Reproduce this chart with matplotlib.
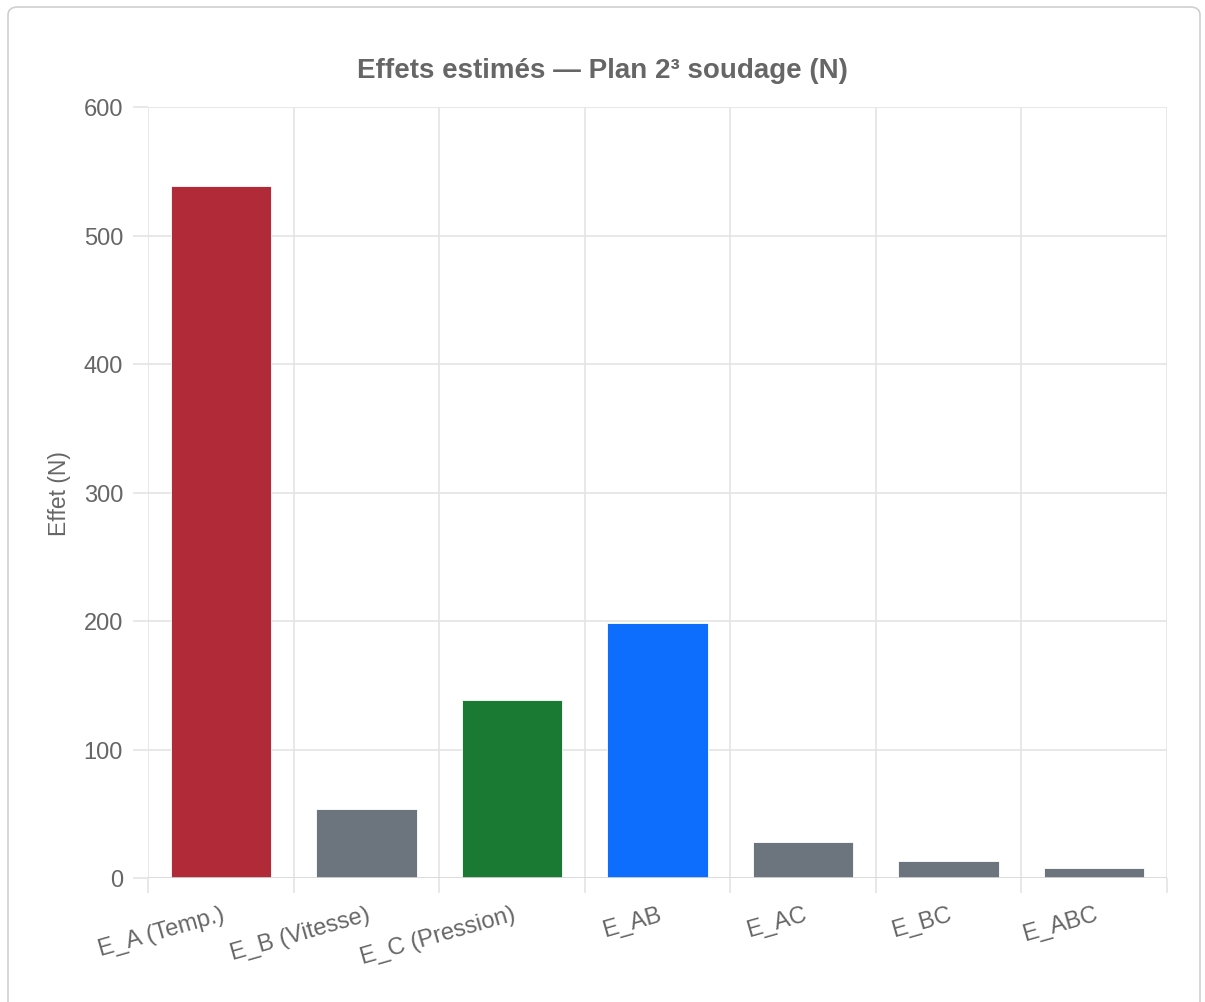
import numpy as np
import matplotlib.pyplot as plt
from matplotlib.patches import FancyBboxPatch

labels = ['E_A (Temp.)', 'E_B (Vitesse)', 'E_C (Pression)', 'E_AB', 'E_AC', 'E_BC', 'E_ABC']
effects = [538.5, 53.5, 138.5, 198.5, 28, 13, 8]
colors = ['#b02a37', '#6c757d', '#1a7a33', '#0d6efd', '#6c757d', '#6c757d', '#6c757d']

plt.rcParams['font.family'] = ['Liberation Sans', 'DejaVu Sans']

fig = plt.figure(figsize=(12.05, 10.03), dpi=100)

# card border (behind the axes)
card = FancyBboxPatch((8 / 1205, -0.02), 1192 / 1205, 1 - 8 / 1003 + 0.02,
                      boxstyle='round,pad=0,rounding_size=0.008',
                      transform=fig.transFigure, facecolor='none',
                      edgecolor='#cfcfcf', linewidth=1.2, zorder=-1)
fig.patches.append(card)

ax = fig.add_axes([148 / 1205, 1 - 879 / 1003, (1167 - 148) / 1205, (879 - 108) / 1003])
ax.set_facecolor('none')

x = np.arange(len(labels))
ax.bar(x, effects, width=0.69, color=colors, edgecolor='white', linewidth=0.6, zorder=3)

ax.set_xlim(-0.5, len(labels) - 0.5)
ax.set_ylim(0, 600)
ax.set_yticks(range(0, 601, 100))

ax.set_xticks(x)
ax.set_xticklabels(labels, rotation=16, ha='right', rotation_mode='anchor')
ax.set_xticks(np.arange(-0.5, len(labels), 1), minor=True)

grid_c = '#e4e4e4'
ax.grid(True, axis='y', color=grid_c, linewidth=1.2, zorder=0)
ax.grid(True, axis='x', which='minor', color=grid_c, linewidth=1.2, zorder=0)
ax.tick_params(axis='x', which='major', length=0, pad=18, labelsize=17, labelcolor='#666666')
ax.tick_params(axis='x', which='minor', length=11, color=grid_c, width=1.2)
ax.tick_params(axis='y', length=11, color=grid_c, width=1.2, pad=7, labelsize=17, labelcolor='#666666')
for s in ax.spines.values():
    s.set_visible(False)
ax.axhline(0, color='#d9d9d9', linewidth=1.2, zorder=4)

ax.set_ylabel('Effet (N)', fontsize=16.5, color='#666666', labelpad=9)

# title centred on the whole card, not on the plot area
fig.suptitle('Effets estimés — Plan 2³ soudage (N)', fontsize=20, fontweight='bold',
             color='#666666', x=0.5, y=1 - 71 / 1003, va='center')

fig.savefig('out.png', dpi=100)
